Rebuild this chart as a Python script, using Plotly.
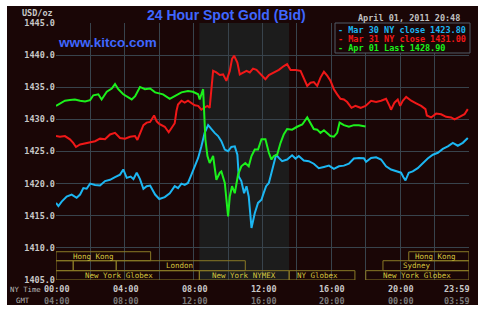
import plotly.graph_objects as go

# ---------------- data (hours NY time, USD/oz) ----------------
mar30_t = [0, .14, .33, .62, .91, 1.2, 1.4, 1.59, 1.78, 1.98, 2.27, 2.56, 2.85, 3.14, 3.43, 3.72, 3.91,
           4.11, 4.34, 4.5, 4.69, 4.88, 5.08, 5.27, 5.47, 5.76, 6.0, 6.32, 6.61, 6.9, 7.09, 7.29, 7.48,
           7.67, 7.87, 8.06, 8.26, 8.45, 8.64, 8.84, 9.03, 9.22, 9.42, 9.61, 9.81, 10.0, 10.19, 10.39,
           10.54, 10.62, 10.77, 10.93, 11.07, 11.2, 11.36, 11.55, 11.74, 11.94, 12.05, 12.21, 12.37,
           12.52, 12.66, 12.79, 12.95, 13.14, 13.43, 13.72, 13.92, 14.11, 14.4, 14.69, 14.98, 15.27,
           15.57, 15.86, 16.15, 16.44, 16.73, 17.02, 17.31, 17.6, 17.89, 18.02, 18.31, 18.6, 18.89,
           19.18, 19.47, 19.76, 20.05, 20.19, 20.31, 20.5, 20.73, 21.02, 21.31, 21.6, 21.9, 22.19,
           22.48, 22.77, 23.06, 23.35, 23.64, 23.93]
mar30_v = [1417.0, 1416.5, 1417.2, 1418.0, 1418.3, 1417.8, 1418.3, 1419.3, 1419.2, 1420.0, 1419.8,
           1419.7, 1420.4, 1420.6, 1421.0, 1421.4, 1422.2, 1420.9, 1421.1, 1420.7, 1421.7, 1420.7,
           1419.2, 1419.6, 1419.7, 1418.3, 1417.6, 1417.9, 1418.5, 1419.6, 1419.3, 1420.0, 1419.8,
           1420.1, 1421.4, 1422.7, 1424.0, 1425.8, 1427.9, 1429.1, 1428.4, 1427.9, 1427.4, 1426.6,
           1425.3, 1425.05, 1425.7, 1425.8, 1424.5, 1421.1, 1420.4, 1418.5, 1419.6, 1418.0, 1413.1,
           1415.4, 1417.0, 1417.5, 1418.4, 1419.6, 1420.1, 1421.7, 1423.2, 1424.5, 1424.0, 1423.5,
           1423.75, 1424.4, 1423.9, 1424.3, 1423.6, 1423.5, 1423.1, 1422.4, 1422.6, 1422.8, 1422.3,
           1422.7, 1422.8, 1423.1, 1423.9, 1424.0, 1423.95, 1423.4, 1424.0, 1424.1, 1423.75, 1422.7,
           1422.2, 1421.9, 1421.7, 1421.0, 1420.5, 1421.7, 1421.9, 1422.4, 1423.2, 1423.9, 1424.5,
           1424.8, 1425.4, 1425.8, 1426.35, 1425.9, 1426.35, 1427.1]

mar31_t = [0, .23, .52, .81, 1.0, 1.16, 1.4, 1.69, 1.98, 2.27, 2.56, 2.85, 3.14, 3.43, 3.72, 4.01,
           4.3, 4.59, 4.73, 4.88, 5.08, 5.27, 5.47, 5.7, 5.85, 6.0, 6.12, 6.32, 6.55, 6.7, 6.9, 7.0,
           7.09, 7.29, 7.48, 7.67, 7.87, 8.06, 8.26, 8.45, 8.6, 8.8, 8.93, 9.03, 9.13, 9.32, 9.52,
           9.71, 9.9, 10.1, 10.23, 10.35, 10.54, 10.68, 10.87, 11.07, 11.26, 11.45, 11.65, 11.84,
           12.0, 12.17, 12.37, 12.66, 12.95, 13.24, 13.43, 13.63, 13.92, 14.21, 14.4, 14.6, 14.79,
           14.98, 15.18, 15.37, 15.57, 15.76, 15.95, 16.15, 16.34, 16.53, 16.73, 16.92, 17.17, 17.4,
           17.7, 17.99, 18.31, 18.6, 18.89, 19.18, 19.38, 19.47, 19.67, 19.86, 20.0, 20.15, 20.35,
           20.64, 20.93, 21.22, 21.47, 21.55, 21.8, 22.09, 22.38, 22.67, 22.96, 23.16, 23.45, 23.74,
           23.93]
mar31_v = [1427.4, 1427.3, 1427.4, 1426.9, 1426.35, 1425.7, 1426.1, 1426.25, 1426.35, 1426.6, 1427.0,
           1426.9, 1427.65, 1427.9, 1427.1, 1427.0, 1427.3, 1427.4, 1426.8, 1427.9, 1429.1, 1429.5,
           1429.6, 1430.6, 1429.7, 1429.3, 1429.1, 1428.85, 1428.0, 1428.7, 1429.4, 1431.3, 1432.3,
           1432.9, 1432.6, 1432.9, 1432.5, 1432.2, 1432.1, 1431.5, 1431.8, 1432.1, 1431.8, 1434.7,
           1437.55, 1437.3, 1436.9, 1437.0, 1436.0, 1437.55, 1439.4, 1439.9, 1438.85, 1437.0, 1437.3,
           1437.55, 1437.3, 1437.9, 1437.7, 1437.2, 1436.8, 1436.25, 1436.9, 1437.3, 1437.7, 1438.3,
           1438.6, 1437.7, 1437.7, 1437.55, 1436.25, 1435.2, 1435.7, 1435.8, 1435.2, 1436.5, 1437.4,
           1436.8, 1436.0, 1434.7, 1433.9, 1433.2, 1433.1, 1432.7, 1431.8, 1432.1, 1431.8, 1432.1,
           1432.9, 1432.7, 1432.9, 1433.2, 1432.1, 1431.5, 1432.6, 1433.1, 1432.1, 1432.9, 1433.5,
           1432.9, 1432.5, 1432.1, 1431.6, 1430.6, 1430.3, 1430.9, 1430.8, 1430.4, 1430.3, 1430.0,
           1430.4, 1430.8, 1431.6]

apr01_t = [0, .23, .52, .81, 1.1, 1.4, 1.69, 1.98, 2.17, 2.46, 2.65, 2.95, 3.24, 3.43, 3.62, 3.91,
           4.2, 4.4, 4.6, 4.88, 5.17, 5.47, 5.76, 6.0, 6.22, 6.61, 6.9, 7.29, 7.67, 7.96, 8.26, 8.35,
           8.55, 8.6, 8.68, 8.8, 8.93, 9.13, 9.32, 9.52, 9.61, 9.81, 9.9, 10.0, 10.1, 10.23, 10.39,
           10.58, 10.77, 11.0, 11.2, 11.36, 11.55, 11.74, 11.94, 12.17, 12.37, 12.52, 12.66, 12.85,
           13.05, 13.24, 13.43, 13.72, 14.01, 14.31, 14.6, 14.79, 14.98, 15.18, 15.37, 15.57, 15.76,
           15.95, 16.15, 16.34, 16.48, 16.73, 17.02, 17.31, 17.6, 17.99]
apr01_v = [1432.1, 1432.5, 1432.9, 1433.0, 1433.1, 1432.9, 1432.8, 1433.0, 1433.75, 1433.9, 1433.1,
           1434.3, 1434.8, 1435.5, 1434.7, 1433.9, 1433.4, 1433.1, 1433.6, 1435.05, 1434.7, 1434.8,
           1434.2, 1434.0, 1433.9, 1433.2, 1433.6, 1434.2, 1434.4, 1434.3, 1433.9, 1433.1, 1434.7,
           1430.5, 1426.9, 1424.3, 1423.2, 1424.3, 1420.6, 1421.7, 1421.9, 1420.1, 1417.5, 1414.9,
           1418.0, 1419.6, 1418.5, 1421.4, 1422.7, 1423.2, 1422.7, 1424.3, 1425.3, 1425.3, 1426.9,
           1426.9, 1424.8, 1423.75, 1424.3, 1424.5, 1426.35, 1427.7, 1428.5, 1428.4, 1428.85, 1429.2,
           1430.3, 1429.5, 1428.5, 1428.4, 1427.9, 1428.3, 1427.8, 1427.4, 1427.3, 1427.9, 1429.5,
           1429.1, 1428.85, 1429.1, 1429.1, 1428.9]

legend_labels = ["- Mar 30 NY close 1423.80", "- Mar 31 NY close 1431.00", "- Apr 01 Last 1428.90"]
ny_time_labels = ["00:00", "04:00", "08:00", "12:00", "16:00", "20:00", "23:59"]
gmt_labels = ["04:00", "08:00", "12:00", "16:00", "20:00", "00:00", "03:59"]
label_hours = [0, 4, 8, 12, 16, 20, 24]
y_ticks = [1405, 1410, 1415, 1420, 1425, 1430, 1435, 1440, 1445]

# sessions: (row, start hour, end hour, label, label centre hour)
sessions = [
    (1, 0.0, 5.5, "Hong Kong", 2.15), (1, 20.5, 24.0, "Hong Kong", 22.07),
    (2, 0.0, 1.0, "", None), (2, 1.0, 3.5, "", None), (2, 3.5, 11.0, "London", 7.2),
    (2, 19.0, 24.0, "Sydney", 20.95),
    (3, 0.0, 8.33, "New York Globex", 3.67), (3, 8.33, 13.55, "New York NYMEX", 10.93),
    (3, 13.55, 17.37, "NY Globex", 15.2), (3, 18.0, 24.0, "New York Globex", 20.97),
]
nymex_hours = (8.33, 13.55)

# ---------------- geometry helpers ----------------
W, H = 484, 310
L, R, T, B = 56, 15, 23, 30
PW, PH = W - L - R, H - T - B
def fx(px): return (px - L) / PW
def fy(py): return (H - B - py) / PH

BG = "#1a0606"
GRID = "#38434c"
MONO = "DejaVu Sans Mono"
CYAN, RED, GREEN = "#1cb6f2", "#f01818", "#1cf01c"
SESS_LINE, SESS_TXT = "#8a7a26", "#d6c63e"

fig = go.Figure()
for t, v, c in [(mar30_t, mar30_v, CYAN), (mar31_t, mar31_v, RED), (apr01_t, apr01_v, GREEN)]:
    fig.add_trace(go.Scatter(x=t, y=v, mode="lines", line=dict(color=c, width=2),
                             showlegend=False, hoverinfo="skip"))

shapes = [
    dict(type="rect", xref="paper", yref="paper", x0=fx(7), x1=fx(478), y0=fy(305), y1=fy(6),
         fillcolor=BG, line=dict(width=0), layer="below"),
    dict(type="rect", xref="x", yref="y", x0=nymex_hours[0], x1=nymex_hours[1], y0=1405, y1=1445,
         fillcolor="#1c1c1c", line=dict(width=0), layer="below"),
    dict(type="rect", xref="paper", yref="paper", x0=fx(335), x1=fx(470), y0=fy(53), y1=fy(23),
         fillcolor=BG, line=dict(color="#505b66", width=1), layer="above"),
]
row_bounds = {1: (1408.0, 1409.4), 2: (1406.45, 1408.0), 3: (1405.0, 1406.45)}
annotations = []
for row, h0, h1, lab, hc in sessions:
    y0, y1 = row_bounds[row]
    shapes.append(dict(type="rect", xref="x", yref="y", x0=h0, x1=h1, y0=y0, y1=y1,
                       line=dict(color=SESS_LINE, width=1), fillcolor="rgba(0,0,0,0)", layer="above"))
    if lab:
        annotations.append(dict(xref="x", yref="y", x=hc, y=(y0 + y1) / 2, text=lab, showarrow=False,
                                font=dict(family=MONO, size=7.5, color=SESS_TXT), xanchor="center",
                                yanchor="middle"))

def txt(x, y, s, color, size=8.5, anchor="left", family=MONO, weight="normal"):
    annotations.append(dict(xref="paper", yref="paper", x=fx(x), y=fy(y), text=s, showarrow=False,
                            xanchor=anchor, yanchor="middle",
                            font=dict(family=family, size=size, color=color, weight=weight)))

txt(37, 13.5, "USD/oz", "#c8c8c8", anchor="center", weight="bold")
txt(226, 15, "24 Hour Spot Gold (Bid)", "#3f66ff", size=14, anchor="center",
    family="Liberation Sans", weight="bold")
txt(56, 43, "www.kitco.com", "#3f66ff", size=13.5, family="Liberation Sans", weight="bold")
txt(409, 17.5, "April 01, 2011 20:48", "#c0c0c0", anchor="center", weight="bold")
for lab, c, yy in zip(legend_labels, [CYAN, RED, GREEN], [29.5, 38.5, 47.5]):
    txt(336, yy, lab, c, weight="bold")

txt(8, 289, "NY Time", "#b8b8b8", size=7.3)
txt(14, 300, "GMT", "#b8b8b8", size=7.3)
for h, a, g in zip(label_hours, ny_time_labels, gmt_labels):
    anchor = "right" if h == 24 else "center"
    for s, yy, col in [(a, 289, "#c8c8c8"), (g, 300.5, "#7a7a7a")]:
        annotations.append(dict(xref="x", yref="paper", x=h, y=fy(yy), text=s, showarrow=False,
                                xanchor=anchor, yanchor="middle", xshift=(3 if h == 24 else 1),
                                font=dict(family=MONO, size=8.5, color=col, weight="bold")))

fig.update_layout(
    width=W, height=H, margin=dict(l=L, r=R, t=T, b=B, pad=0),
    paper_bgcolor="white", plot_bgcolor=BG,
    shapes=shapes, annotations=annotations,
    xaxis=dict(range=[0, 24], tick0=0, dtick=2, showgrid=True, gridcolor=GRID, gridwidth=1,
               showticklabels=False, zeroline=False, showline=False, ticks="", fixedrange=True),
    yaxis=dict(range=[1405, 1445], tickvals=y_ticks, tickformat=".1f", showgrid=True,
               gridcolor=GRID, gridwidth=1, zeroline=False, showline=False, ticks="",
               tickfont=dict(family=MONO, size=8.5, color="#c8c8c8", weight="bold"), fixedrange=True),
    showlegend=False,
)
fig.write_html("out.html", config={"displayModeBar": False})
